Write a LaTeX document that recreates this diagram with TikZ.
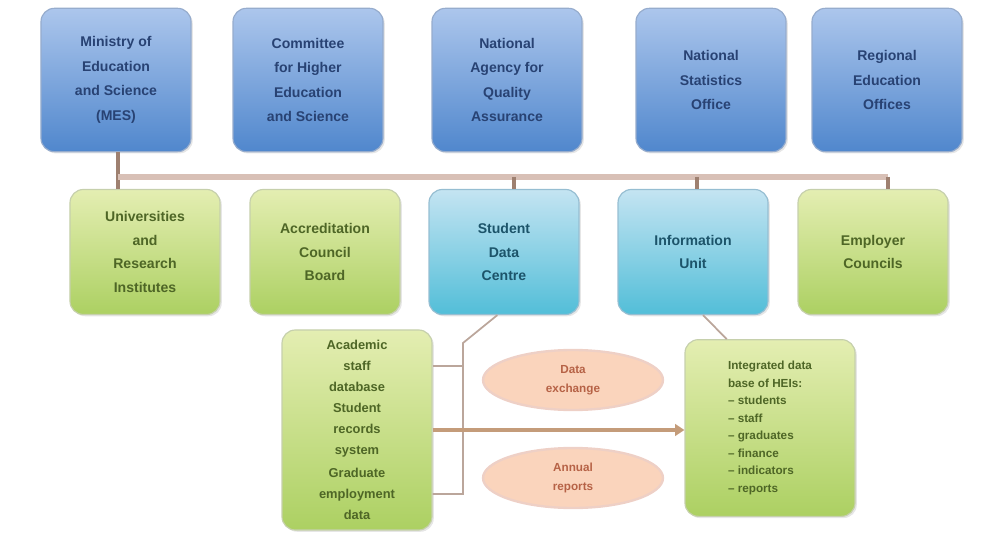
\documentclass[tikz,border=0pt]{standalone}
\usepackage{fontspec}
\setmainfont{Liberation Sans}
\usetikzlibrary{shapes.geometric,arrows.meta,shadows}
\definecolor{toptop}{RGB}{172,198,236}
\definecolor{topbot}{RGB}{80,135,205}
\definecolor{topline}{RGB}{150,172,205}
\definecolor{toptext}{RGB}{40,66,115}
\definecolor{grntop}{RGB}{228,238,178}
\definecolor{grnbot}{RGB}{172,208,98}
\definecolor{grnline}{RGB}{198,208,172}
\definecolor{grntext}{RGB}{78,102,38}
\definecolor{cyntop}{RGB}{196,228,242}
\definecolor{cynbot}{RGB}{82,190,216}
\definecolor{cynline}{RGB}{150,190,210}
\definecolor{cyntext}{RGB}{28,84,106}
\definecolor{ovalfill}{RGB}{250,212,188}
\definecolor{ovalline}{RGB}{238,208,198}
\definecolor{ovaltext}{RGB}{182,98,70}
\definecolor{buscol}{RGB}{216,192,182}
\definecolor{stubcol}{RGB}{158,128,112}
\definecolor{flowcol}{RGB}{196,156,122}
\begin{document}
\begin{tikzpicture}[x=0.03cm,y=-0.03cm,
    box/.style={line width=1pt,rounded corners=0.4cm,align=center,minimum width=4.5cm,
        drop shadow={opacity=0.2,shadow xshift=1.5pt,shadow yshift=-1.5pt}},
    topbox/.style={box,draw=topline,top color=toptop,bottom color=topbot,minimum height=4.3cm,
        text=toptext,font=\bfseries\fontsize{12}{21}\selectfont},
    grnbox/.style={box,draw=grnline,top color=grntop,bottom color=grnbot,minimum height=3.75cm,
        text=grntext,font=\bfseries\fontsize{12}{20}\selectfont},
    cynbox/.style={box,draw=cynline,top color=cyntop,bottom color=cynbot,minimum height=3.75cm,
        text=cyntext,font=\bfseries\fontsize{12}{20}\selectfont},
    entry/.style={align=center,text=grntext,font=\bfseries\fontsize{11}{18}\selectfont},
    oval/.style={ellipse,draw=ovalline,line width=2pt,fill=ovalfill,minimum width=5.4cm,minimum height=1.8cm,
        align=center,text=ovaltext,font=\bfseries\fontsize{10}{16}\selectfont},
    bus/.style={buscol,line width=5.5pt},
    stub/.style={stubcol,line width=3pt},
    link/.style={stubcol!70,line width=1.5pt},
    flow/.style={flowcol,line width=4pt,-{Triangle[length=8pt,width=10pt]}}]
    \useasboundingbox (0,0) rectangle (992,543);
    % top row
    \node[topbox] (moe) at (116,80) {Ministry of\\Education\\and Science\\(MES)};
    \node[topbox] (che) at (308,80) {Committee\\for Higher\\Education\\and Science};
    \node[topbox] (naqa) at (507,80) {National\\Agency for\\Quality\\Assurance};
    \node[topbox] (nso) at (711,80) {National\\Statistics\\Office};
    \node[topbox] (reo) at (887,80) {Regional\\Education\\Offices};
    % second row
    \node[grnbox] (uni) at (145,252) {Universities\\and\\Research\\Institutes};
    \node[grnbox] (acc) at (325,252) {Accreditation\\Council\\Board};
    \node[cynbox] (data) at (504,252) {Student\\Data\\Centre};
    \node[cynbox] (info) at (693,252) {Information\\Unit};
    \node[grnbox] (emp) at (873,252) {Employer\\Councils};
    % bus
    \coordinate (busL) at (118,177);
    \coordinate (busR) at (888,177);
    \coordinate (j3) at (514,177);
    \coordinate (j4) at (697,177);
    \draw[stub] (moe.south -| busL) -- (busL |- uni.north);
    \draw[bus] (busL) -- (busR);
    \draw[stub] (j3) -- (j3 |- data.north);
    \draw[stub] (j4) -- (j4 |- info.north);
    \draw[stub] (busR) -- (busR |- emp.north);
    % databases
    \node[grnbox,minimum width=4.5cm,minimum height=6cm] (dbs) at (357,430) {};
    \node[entry] (staff) at (357,366) {Academic\\staff\\database};
    \node[entry] (recs) at (357,430) {Student\\records\\system};
    \node[entry] (grad) at (357,494) {Graduate\\employment\\data};
    \coordinate (brk) at (463,343);
    \draw[link] ([xshift=-0.2cm]data.south) -- (brk) -- (brk |- grad.east) -- (grad.east -| dbs.east);
    \draw[link] (staff.east -| dbs.east) -- (staff.east -| brk);
    \node[oval] (exch) at (573,380) {Data\\exchange};
    \node[oval] (rep) at (573,478) {Annual\\reports};
    \node[grnbox,minimum width=5.1cm,minimum height=5.3cm,align=left,
        font=\bfseries\fontsize{10}{15}\selectfont] (mon) at (770,428)
        {Integrated data\\base of HEIs:\\-- students\\-- staff\\-- graduates\\-- finance\\-- indicators\\-- reports};
    \draw[flow] (recs.east -| dbs.east) -- (recs.east -| mon.west);
    \draw[link] ([xshift=0.3cm]info.south) -- ([xshift=-1.3cm]mon.north);
\end{tikzpicture}
\end{document}
